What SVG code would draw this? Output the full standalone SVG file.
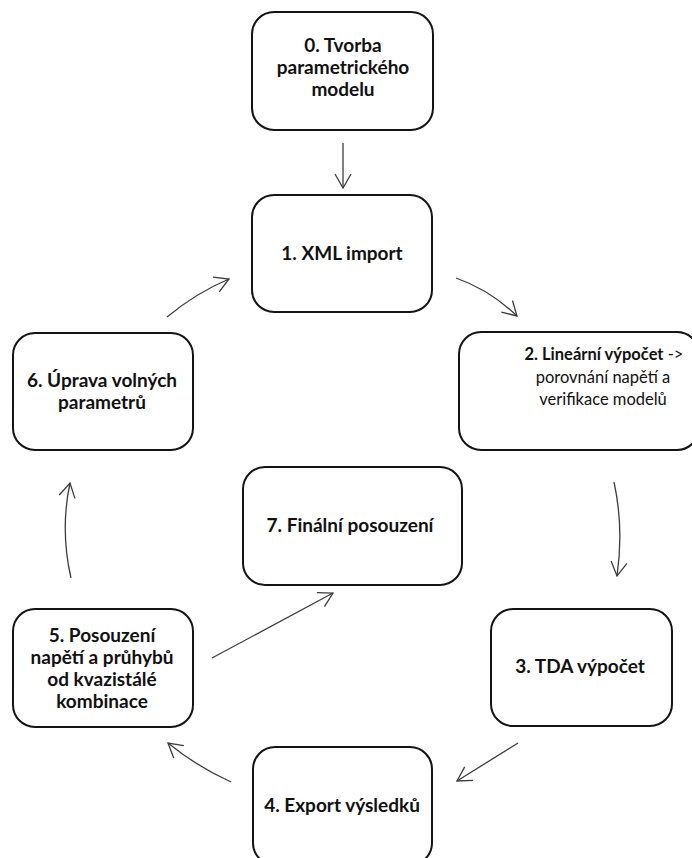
<svg xmlns="http://www.w3.org/2000/svg" width="692" height="858" viewBox="0 0 692 858">
  <defs>
    <style>
      .box { fill: #ffffff; stroke: #141414; stroke-width: 2; }
      .t { font-family: Lato, "Open Sans", "Liberation Sans", sans-serif; font-size: 19px; fill: #111111; text-anchor: middle; }
      .s { font-size: 16.5px; }
      .b { font-weight: bold; }
      .n { font-weight: normal; }
      .c { fill: none; stroke: #3c3c3c; stroke-width: 1.3; marker-end: url(#arr); }
    </style>
    <marker id="arr" viewBox="0 0 16 18" refX="15" refY="9" markerWidth="16" markerHeight="18" markerUnits="userSpaceOnUse" orient="auto">
      <path d="M1,1 L15,9 L1,17" fill="none" stroke="#3c3c3c" stroke-width="1.3"/>
    </marker>
  </defs>
  <rect width="692" height="858" fill="#ffffff"/>

  <g id="connectors">
    <path class="c" d="M343,143 L343,188"/>
    <path class="c" d="M456,278 Q490,290 517,316"/>
    <path class="c" d="M614,482 Q624,528 617,576"/>
    <path class="c" d="M518,743 Q486,763 457,781"/>
    <path class="c" d="M231,782 Q196,766 168,743"/>
    <path class="c" d="M71,578 Q60,530 70,483"/>
    <path class="c" d="M167,317 Q196,293 229,279"/>
    <path class="c" d="M212,658 L333,593"/>
  </g>

  <g id="node0">
    <rect class="box" x="252" y="12" width="181" height="118" rx="22"/>
    <text class="t b" x="343" y="52">0. Tvorba</text>
    <text class="t b" x="343" y="74">parametrického</text>
    <text class="t b" x="343" y="96">modelu</text>
  </g>

  <g id="node1">
    <rect class="box" x="252" y="195" width="180" height="117" rx="22"/>
    <text class="t b" x="342" y="260">1. XML import</text>
  </g>

  <g id="node2">
    <rect class="box" x="459" y="332" width="240" height="118" rx="22"/>
    <text class="t s" x="604" y="360"><tspan class="b">2. Lineární výpočet</tspan><tspan class="n"> -&gt;</tspan></text>
    <text class="t s n" x="603" y="383">porovnání napětí a</text>
    <text class="t s n" x="603" y="405">verifikace modelů</text>
  </g>

  <g id="node3">
    <rect class="box" x="491" y="609" width="181" height="117" rx="22"/>
    <text class="t b" x="580" y="673">3. TDA výpočet</text>
  </g>

  <g id="node4">
    <rect class="box" x="253" y="747" width="179" height="118" rx="22"/>
    <text class="t b" x="342" y="812">4. Export výsledků</text>
  </g>

  <g id="node5">
    <rect class="box" x="13" y="609" width="180" height="118" rx="22"/>
    <text class="t b" x="102" y="642">5. Posouzení</text>
    <text class="t b" x="102" y="664">napětí a průhybů</text>
    <text class="t b" x="102" y="686">od kvazistálé</text>
    <text class="t b" x="102" y="708">kombinace</text>
  </g>

  <g id="node6">
    <rect class="box" x="13" y="333" width="180" height="117" rx="22"/>
    <text class="t b" x="102" y="387">6. Úprava volných</text>
    <text class="t b" x="102" y="409">parametrů</text>
  </g>

  <g id="node7">
    <rect class="box" x="243" y="467" width="219" height="118" rx="22"/>
    <text class="t b" x="350" y="532">7. Finální posouzení</text>
  </g>
</svg>
